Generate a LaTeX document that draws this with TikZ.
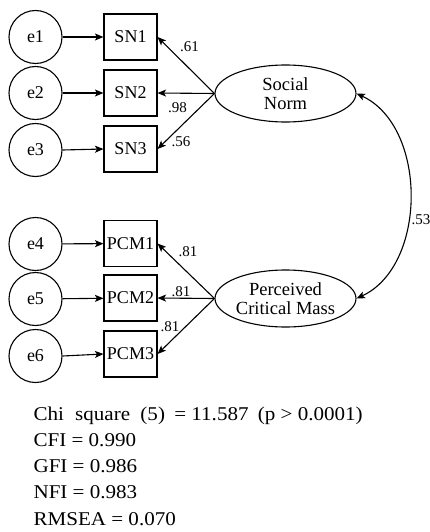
\documentclass[tikz,border=0pt]{standalone}
\usepackage{fontspec}
\setmainfont{Liberation Serif}
\newfontfamily\statfont{Liberation Serif}[FakeStretch=1.08]
\usetikzlibrary{arrows.meta,shapes.geometric}
\begin{document}
\begin{tikzpicture}[x=1pt,y=-1pt,
  line width=1.1pt,
  err/.style={draw,circle,minimum size=53pt,inner sep=0pt,font=\fontsize{18}{20}\selectfont},
  obs/.style={draw,rectangle,minimum width=53pt,minimum height=46pt,inner sep=0pt,font=\fontsize{18}{20}\selectfont},
  lat/.style={draw,ellipse,minimum width=141pt,minimum height=57pt,inner sep=0pt,align=center,font=\fontsize{18.5}{19.5}\selectfont},
  arr/.style={-{Stealth[length=8.5pt,width=7pt,inset=2pt]}},
  bi/.style={{Stealth[length=8.5pt,width=7pt,inset=2pt]}-{Stealth[length=8.5pt,width=7pt,inset=2pt]}},
  coef/.style={font=\fontsize{15}{16}\selectfont,inner sep=0pt},
  stat/.style={anchor=base west,inner sep=0pt,font=\statfont\fontsize{19.5}{24}\selectfont}]
\useasboundingbox (0,0) rectangle (430,532);

% error terms
\node[err] (e1) at (35.5,37) {e1};
\node[err] (e2) at (35.5,93) {e2};
\node[err] (e3) at (35.5,150) {e3};
\node[err] (e4) at (35.5,244) {e4};
\node[err] (e5) at (35.5,299) {e5};
\node[err] (e6) at (35.5,356) {e6};

% observed
\node[obs] (sn1) at (130.5,37) {SN1};
\node[obs] (sn2) at (130.5,93) {SN2};
\node[obs] (sn3) at (130.5,149) {SN3};
\node[obs] (pcm1) at (130.5,243.5) {PCM1};
\node[obs] (pcm2) at (130.5,298) {PCM2};
\node[obs] (pcm3) at (130.5,354) {PCM3};

% latent
\node[lat] (sn) at (285.5,93.5) {Social\\Norm};
\node[lat] (pcm) at (285.5,298.5) {Perceived\\Critical Mass};

% error arrows
\draw[arr] (e1) -- (sn1);
\draw[arr] (e2) -- (sn2);
\draw[arr] (e3.east) -- (sn3.west);
\draw[arr] (e4) -- (pcm1);
\draw[arr] (e5) -- (pcm2);
\draw[arr] (e6.east) -- (pcm3.west);

% loadings
\draw[arr] (sn.west) -- (sn1.east);
\draw[arr] (sn.west) -- (sn2.east);
\draw[arr] (sn.west) -- (sn3.east);
\draw[arr] (pcm.west) -- (pcm1.east);
\draw[arr] (pcm.west) -- (pcm2.east);
\draw[arr] (pcm.west) -- (pcm3.east);

\node[coef] (l1) at (189.5,47) {.61};
\node[coef] (l2) at (177.5,108) {.98};
\node[coef] (l3) at (181,142) {.56};
\node[coef] (l4) at (188,252) {.81};
\node[coef] (l5) at (181,292) {.81};
\node[coef] (l6) at (170,327) {.81};

% covariance
\draw[bi] (sn.east) .. controls +(71,33) and +(71,-33) .. (pcm.east);
\node[coef,anchor=west] (l7) at (411,220) {.53};

% fit statistics
\node[stat] (s1) at (33,420) {Chi\hspace{6pt} square\hspace{5pt} (5)\hspace{4pt} = 11.587\hspace{4pt} (p > 0.0001)};
\node[stat] (s2) at (33,446.5) {CFI = 0.990};
\node[stat] (s3) at (33,472.5) {GFI = 0.986};
\node[stat] (s4) at (33,498.5) {NFI = 0.983};
\node[stat] (s5) at (33,525) {RMSEA = 0.070};
\end{tikzpicture}
\end{document}
